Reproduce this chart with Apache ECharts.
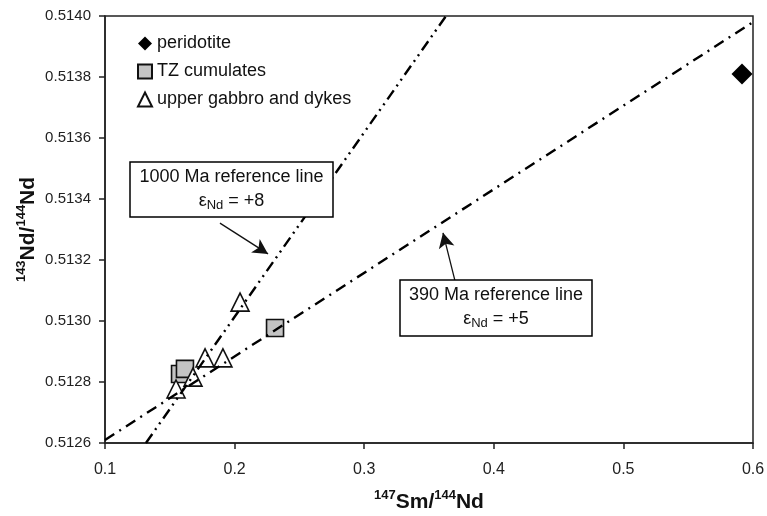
<!DOCTYPE html>
<html>
<head>
<meta charset="utf-8">
<script src="https://cdn.jsdelivr.net/npm/echarts@6/dist/echarts.min.js"></script>
<style>
  html, body { margin: 0; padding: 0; background: #fff; }
  #chart { width: 767px; height: 516px; }
</style>
</head>
<body>
<div id="chart"></div>
<script>
var myChart = echarts.init(document.getElementById('chart'));

// data: [147Sm/144Nd, 143Nd/144Nd]
const peridotite = [[0.5915, 0.51381]];
const tzCumulates = [[0.1579, 0.512826], [0.1617, 0.512843], [0.2312, 0.512977]];
const upperGabbro = [[0.1548, 0.512777], [0.1679, 0.512816], [0.1772, 0.512879], [0.1910, 0.512879], [0.2042, 0.513062]];

// reference lines (end points)
const line1000 = [[0.1316, 0.5126], [0.3631, 0.5140]];
const line390 = [[0.1, 0.51261], [0.6, 0.51398]];

// arrows from the label boxes to the lines
const arrow1000 = [[0.1887, 0.513321], [0.2258, 0.51322]];
const arrow390 = [[0.3701, 0.513131], [0.3608, 0.513289]];

const xTicks = { min: 0.1, max: 0.6, step: 0.1 };
const yTicks = { min: 0.5126, max: 0.5140, step: 0.0002 };

const font = 'Liberation Sans, Arial, sans-serif';

const boxText = (x, y, w, h, title, eps) => ({
    type: 'group',
    children: [
        {
            type: 'rect',
            shape: { x: x, y: y, width: w, height: h },
            style: { fill: '#fff', stroke: '#000', lineWidth: 1.5 },
            z: 100
        },
        {
            type: 'text',
            x: x + w / 2,
            y: y + 15,
            style: { text: title, font: '18px ' + font, fill: '#111', align: 'center', verticalAlign: 'middle' },
            z: 101
        },
        {
            type: 'text',
            x: x + w / 2,
            y: y + 39,
            style: {
                text: '{e|ε}{s|Nd}{e| = ' + eps + '}',
                align: 'center',
                verticalAlign: 'middle',
                rich: {
                    e: { fontSize: 18, fontFamily: font, fill: '#111', lineHeight: 22, verticalAlign: 'middle' },
                    s: { fontSize: 13, fontFamily: font, fill: '#111', lineHeight: 12, verticalAlign: 'bottom' }
                }
            },
            z: 101
        }
    ]
});

const arrowItem = (a) => [
    { coord: a[0], symbol: 'none' },
    { coord: a[1], symbol: 'arrow', symbolSize: [12, 15] }
];

const axisName = {
    rich: {
        b: { fontSize: 21, fontWeight: 'bold', fontFamily: font, color: '#111', lineHeight: 24, verticalAlign: 'bottom' },
        sup: { fontSize: 13, fontWeight: 'bold', fontFamily: font, color: '#111', lineHeight: 24, verticalAlign: 'top' }
    }
};

option = {
    animation: false,
    backgroundColor: '#fff',
    grid: {
        left: 105,
        right: 14,
        top: 16,
        bottom: 73,
        outerBoundsMode: 'none',
        containLabel: false,
        show: true,
        borderColor: '#222',
        borderWidth: 1.5
    },
    legend: {
        data: ['peridotite', 'TZ cumulates', 'upper gabbro and dykes'],
        orient: 'vertical',
        left: 132,
        top: 29,
        itemWidth: 14,
        itemHeight: 14,
        itemGap: 9,
        textStyle: { fontSize: 18, fontFamily: font, color: '#111', lineHeight: 19 }
    },
    xAxis: {
        type: 'value',
        min: xTicks.min,
        max: xTicks.max,
        interval: xTicks.step,
        name: '{sup|147}{b|Sm/}{sup|144}{b|Nd}',
        nameLocation: 'middle',
        nameGap: 46,
        nameMoveOverlap: false,
        nameTextStyle: axisName,
        axisLine: { lineStyle: { color: '#222', width: 1.5 } },
        axisTick: { length: 6, lineStyle: { color: '#222', width: 1.5 } },
        axisLabel: {
            margin: 19,
            fontSize: 16,
            fontFamily: font,
            color: '#222',
            formatter: v => v.toFixed(1)
        },
        splitLine: { show: false }
    },
    yAxis: {
        type: 'value',
        min: yTicks.min,
        max: yTicks.max,
        interval: yTicks.step,
        name: '{sup|143}{b|Nd/}{sup|144}{b|Nd}',
        nameLocation: 'middle',
        nameRotate: 90,
        nameGap: 66,
        nameMoveOverlap: false,
        nameTextStyle: axisName,
        axisLine: { lineStyle: { color: '#222', width: 1.5 } },
        axisTick: { length: 6, lineStyle: { color: '#222', width: 1.5 } },
        axisLabel: {
            margin: 14,
            fontSize: 15,
            fontFamily: font,
            color: '#222',
            formatter: v => v.toFixed(4)
        },
        splitLine: { show: false }
    },
    series: [
        {
            name: 'peridotite',
            type: 'scatter',
            symbol: 'diamond',
            symbolSize: 21,
            itemStyle: { color: '#000', opacity: 1 },
            data: peridotite
        },
        {
            name: 'TZ cumulates',
            type: 'scatter',
            symbol: 'rect',
            symbolSize: 17,
            itemStyle: { color: '#c4c4c4', borderColor: '#111', borderWidth: 1.6, opacity: 1 },
            data: tzCumulates
        },
        {
            name: 'upper gabbro and dykes',
            type: 'scatter',
            symbol: 'triangle',
            symbolSize: 18,
            itemStyle: { color: '#fff', borderColor: '#111', borderWidth: 1.6, opacity: 1 },
            data: upperGabbro
        },
        {
            name: '1000 Ma',
            type: 'line',
            symbol: 'none',
            silent: true,
            lineStyle: { color: '#000', width: 2.4, type: [11, 5, 2, 5, 2, 5] },
            data: line1000
        },
        {
            name: '390 Ma',
            type: 'line',
            symbol: 'none',
            silent: true,
            lineStyle: { color: '#000', width: 2.4, type: [11, 6, 2, 6] },
            data: line390,
            markLine: {
                silent: true,
                symbol: ['none', 'arrow'],
                label: { show: false },
                lineStyle: { color: '#111', width: 1.3, type: 'solid' },
                itemStyle: { color: '#111' },
                data: [arrowItem(arrow1000), arrowItem(arrow390)]
            }
        }
    ],
    graphic: [
        boxText(130, 162, 203, 55, '1000 Ma reference line', '+8'),
        boxText(400, 280, 192, 56, '390 Ma reference line', '+5')
    ]
};

myChart.setOption(option);
</script>
</body>
</html>
